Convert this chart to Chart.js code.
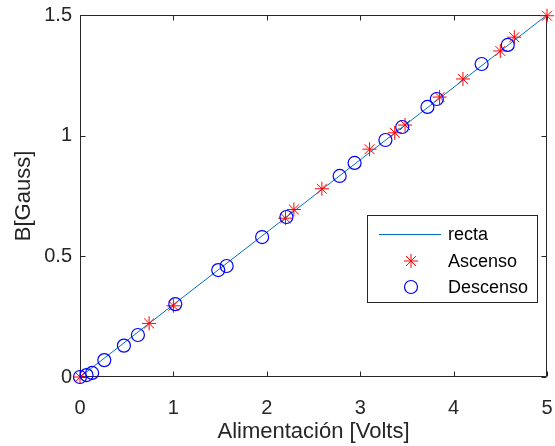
<!DOCTYPE html>
<html>
<head>
<meta charset="utf-8">
<script src="https://cdn.jsdelivr.net/npm/chart.js@4"></script>
<style>
  html, body { margin: 0; padding: 0; background: #fff; }
  canvas { display: block; }
</style>
</head>
<body>
<canvas id="bChart" width="555" height="446"></canvas>
<script>
// values
var xTicks = [0, 1, 2, 3, 4, 5];
var yTicks = [0, 0.5, 1, 1.5];

var rectaX = [0, 5];
var rectaY = [0, 1.5];

var ascensoX = [0.0, 0.74, 1.00, 2.20, 2.29, 2.59, 3.10, 3.37, 3.48, 3.85, 4.10, 4.50, 4.65, 5.00];
var ascensoY = [0.0, 0.222, 0.295, 0.658, 0.694, 0.780, 0.944, 1.012, 1.044, 1.160, 1.235, 1.351, 1.408, 1.497];

var descensoX = [0.0, 0.07, 0.13, 0.26, 0.47, 0.62, 1.02, 1.48, 1.57, 1.95, 2.21, 2.78, 2.94, 3.27, 3.45, 3.72, 3.82, 4.30, 4.58];
var descensoY = [0.0, 0.008, 0.017, 0.070, 0.130, 0.174, 0.302, 0.443, 0.460, 0.580, 0.663, 0.833, 0.887, 0.982, 1.036, 1.119, 1.152, 1.297, 1.376];

function pts(xs, ys) {
    return xs.map(function (x, i) { return { x: x, y: ys[i] }; });
}

var FONT = "'Liberation Sans', Arial, sans-serif";
var INK = '#262626';

// box around the axes with ticks pointing inwards, like matlab
var boxPlugin = {
    id: 'boxTicks',
    beforeDatasetsDraw: function (chart) {
        var ctx = chart.ctx, a = chart.chartArea;
        var xs = chart.scales.x, ys = chart.scales.y;
        var L = Math.round(a.left) + 0.5, R = Math.round(a.right) - 0.5;
        var T = Math.round(a.top) + 0.5, B = Math.round(a.bottom) - 0.5;
        ctx.save();
        ctx.strokeStyle = INK;
        ctx.lineWidth = 1;
        ctx.beginPath();
        ctx.rect(L, T, R - L, B - T);
        xTicks.forEach(function (v) {
            var px = Math.round(xs.getPixelForValue(v)) + 0.5;
            ctx.moveTo(px, B); ctx.lineTo(px, B - 5);
            ctx.moveTo(px, T); ctx.lineTo(px, T + 5);
        });
        yTicks.forEach(function (v) {
            var py = Math.round(ys.getPixelForValue(v)) + 0.5;
            ctx.moveTo(L, py); ctx.lineTo(L + 5, py);
            ctx.moveTo(R, py); ctx.lineTo(R - 5, py);
        });
        ctx.stroke();
        ctx.restore();
    }
};

// legend inside the plot, lower right
var legendPlugin = {
    id: 'innerLegend',
    afterDraw: function (chart) {
        var ctx = chart.ctx;
        var bx = 367.5, by = 215.5, bw = 170, bh = 87;
        ctx.save();
        ctx.fillStyle = '#fff';
        ctx.fillRect(bx, by, bw, bh);
        ctx.strokeStyle = INK;
        ctx.lineWidth = 1;
        ctx.strokeRect(bx, by, bw, bh);
        var rows = [234, 261, 287];
        ctx.font = '18px ' + FONT;
        ctx.textBaseline = 'middle';
        ctx.textAlign = 'left';
        chart.data.datasets.forEach(function (ds, i) {
            var y = rows[i];
            if (ds.showLine) {
                ctx.strokeStyle = ds.borderColor;
                ctx.lineWidth = ds.borderWidth;
                ctx.beginPath();
                ctx.moveTo(379, y + 0.5);
                ctx.lineTo(441, y + 0.5);
                ctx.stroke();
            } else {
                ctx.strokeStyle = ds.borderColor;
                ctx.fillStyle = 'rgba(0,0,0,0)';
                ctx.lineWidth = ds.borderWidth;
                Chart.helpers.drawPoint(ctx, {
                    pointStyle: ds.pointStyle,
                    radius: ds.pointRadius,
                    borderWidth: ds.borderWidth,
                    rotation: 0
                }, 411, y);
            }
            ctx.fillStyle = '#000';
            ctx.fillText(ds.label, 448, y + 1);
        });
        ctx.restore();
    }
};

new Chart(document.getElementById('bChart'), {
    type: 'scatter',
    data: {
        datasets: [{
            label: 'recta',
            data: pts(rectaX, rectaY),
            showLine: true,
            borderColor: '#0072BD',
            borderWidth: 1,
            pointRadius: 0,
            order: 3
        }, {
            label: 'Ascenso',
            data: pts(ascensoX, ascensoY),
            pointStyle: 'star',
            pointRadius: 7,
            borderColor: '#ff0000',
            backgroundColor: 'rgba(0,0,0,0)',
            borderWidth: 1,
            clip: false,
            order: 2
        }, {
            label: 'Descenso',
            data: pts(descensoX, descensoY),
            pointStyle: 'circle',
            pointRadius: 6.5,
            borderColor: '#0000ff',
            backgroundColor: 'rgba(0,0,0,0)',
            borderWidth: 1.2,
            clip: false,
            order: 1
        }]
    },
    options: {
        responsive: false,
        animation: false,
        devicePixelRatio: 1,
        layout: { padding: { left: 0, top: 15, right: 6, bottom: 0 } },
        plugins: {
            legend: { display: false },
            tooltip: { enabled: false }
        },
        scales: {
            x: {
                type: 'linear',
                min: 0,
                max: 5,
                afterBuildTicks: function (s) { s.ticks = xTicks.map(function (v) { return { value: v }; }); },
                afterFit: function (s) {
                    s.height = 69;
                    s.paddingLeft = 0; s.paddingRight = 0;
                },
                grid: { display: false, drawTicks: false },
                border: { display: false },
                ticks: { color: INK, font: { family: FONT, size: 20 }, padding: 19, maxRotation: 0 },
                title: {
                    display: true,
                    text: 'Alimentación [Volts]',
                    color: INK,
                    font: { family: FONT, size: 22 },
                    padding: { top: 1, bottom: 1 }
                }
            },
            y: {
                type: 'linear',
                min: 0,
                max: 1.5,
                afterBuildTicks: function (s) { s.ticks = yTicks.map(function (v) { return { value: v }; }); },
                afterFit: function (s) {
                    s.width = 80;
                    s.paddingTop = 0; s.paddingBottom = 0;
                },
                grid: { display: false, drawTicks: false },
                border: { display: false },
                ticks: {
                    color: INK,
                    font: { family: FONT, size: 20 },
                    padding: 8,
                    callback: function (v) { return String(v); }
                },
                title: {
                    display: true,
                    text: 'B[Gauss]',
                    color: INK,
                    font: { family: FONT, size: 22 },
                    padding: { top: 11, bottom: 11 }
                }
            }
        }
    },
    plugins: [boxPlugin, legendPlugin]
});
</script>
</body>
</html>
